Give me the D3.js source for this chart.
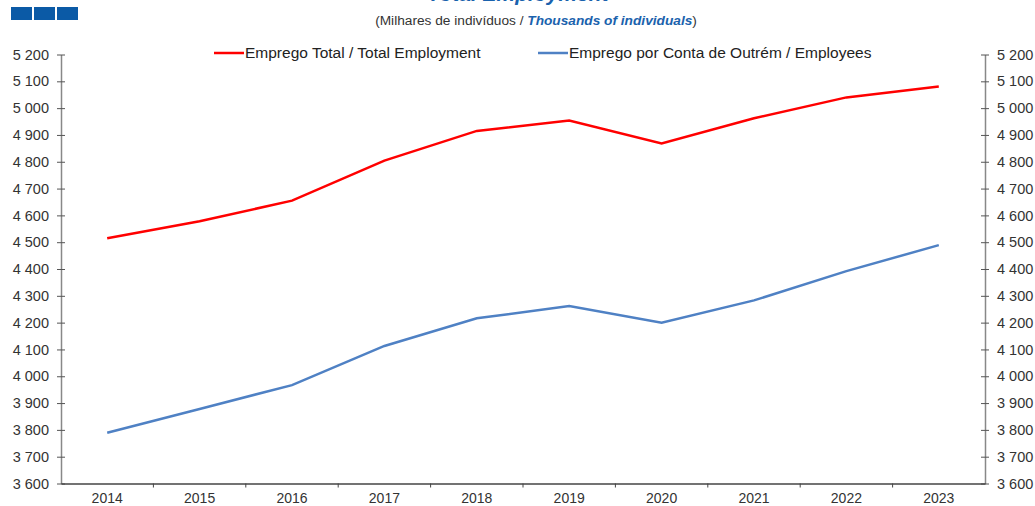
<!DOCTYPE html>
<html lang="en">
<head>
<meta charset="utf-8">
<title>Total Employment</title>
<script src="https://cdn.jsdelivr.net/npm/d3@7"></script>
<style>
  body { margin: 0; background: #fff; }
  svg text { font-family: "Liberation Sans", Arial, sans-serif; }
</style>
</head>
<body>
<script>
// anos / years
var years = ["2014", "2015", "2016", "2017", "2018", "2019", "2020", "2021", "2022", "2023"];
// Emprego Total / Total Employment (milhares)
var totalEmployment = [4515, 4578, 4655, 4804, 4915, 4954, 4868, 4962, 5040, 5081];
// Emprego por Conta de Outrém / Employees (milhares)
var employees = [3789, 3878, 3967, 4113, 4216, 4262, 4200, 4283, 4392, 4489];
var yTicks = d3.range(3600, 5201, 100);

var w = 1035, h = 506;
var margin = {left: 61, right: 50, top: 54.5, bottom: 22.5};

var svg = d3.select("body").append("svg")
  .attr("width", w)
  .attr("height", h);

var x = d3.scaleBand().domain(years).range([margin.left, w - margin.right]);
var y = d3.scaleLinear().domain([3600, 5200]).range([h - margin.bottom, margin.top]);

// cabeçalho
var boxes = [0, 1, 2];
svg.selectAll("rect.box").data(boxes).enter().append("rect")
  .attr("class", "box")
  .attr("x", function(d) { return 11 + d * 23; })
  .attr("y", 7)
  .attr("width", 21)
  .attr("height", 13)
  .attr("fill", "#0b5aa6");

// titulo (cortado no topo, como no original)
svg.append("text")
  .attr("x", 518).attr("y", 1)
  .attr("text-anchor", "middle")
  .attr("font-size", "21px")
  .attr("font-weight", "bold")
  .attr("font-style", "italic")
  .attr("fill", "#1a62ad")
  .text("Total Employment");

var sub = svg.append("text")
  .attr("x", 536).attr("y", 25)
  .attr("text-anchor", "middle")
  .attr("font-size", "13.7px")
  .attr("fill", "#333");
sub.append("tspan").text("(Milhares de indivíduos / ");
sub.append("tspan").attr("font-weight", "bold").attr("font-style", "italic")
  .attr("fill", "#1a62ad").text("Thousands of individuals");
sub.append("tspan").text(")");

// eixos
var fmt = function(d) { return d3.format(",")(d).replace(",", " "); };

var left = svg.append("g")
  .attr("transform", "translate(" + margin.left + ",0)")
  .call(d3.axisLeft(y).tickValues(yTicks).tickFormat(fmt).tickSizeInner(5).tickSizeOuter(0).tickPadding(7));
var right = svg.append("g")
  .attr("transform", "translate(" + (w - margin.right) + ",0)")
  .call(d3.axisRight(y).tickValues(yTicks).tickFormat(fmt).tickSizeInner(5).tickSizeOuter(0).tickPadding(7));

[left, right].forEach(function(g) {
  g.select(".domain").attr("stroke", "#888").attr("stroke-width", 1.5);
  g.selectAll(".tick line").attr("stroke", "#555").attr("x1", -4).attr("x2", 4);
  g.selectAll(".tick text").attr("font-size", "14.5px").attr("fill", "#333")
    .attr("font-family", "'Liberation Sans', Arial, sans-serif");
});

var bottom = svg.append("g")
  .attr("transform", "translate(0," + (h - margin.bottom) + ")")
  .call(d3.axisBottom(x).tickSize(0).tickPadding(10));
bottom.select(".domain").attr("stroke", "#444").attr("stroke-width", 1.5);
bottom.selectAll(".tick text").attr("font-size", "14px").attr("fill", "#333")
  .attr("font-family", "'Liberation Sans', Arial, sans-serif");
// marcas entre categorias
bottom.selectAll("line.sep").data(years.slice(1)).enter().append("line")
  .attr("class", "sep")
  .attr("x1", function(d) { return x(d); })
  .attr("x2", function(d) { return x(d); })
  .attr("y1", 0).attr("y2", 4)
  .attr("stroke", "#444");

// linhas
var line = d3.line()
  .x(function(d, i) { return x(years[i]) + x.bandwidth() / 2; })
  .y(function(d) { return y(d); });

svg.append("path").datum(employees)
  .attr("d", line).attr("fill", "none")
  .attr("stroke", "#4f81c4").attr("stroke-width", 2.5);
svg.append("path").datum(totalEmployment)
  .attr("d", line).attr("fill", "none")
  .attr("stroke", "#ff0000").attr("stroke-width", 2.5);

// legenda
var legend = [
  {name: "Emprego Total / Total Employment", color: "#ff0000", x: 214},
  {name: "Emprego por Conta de Outrém / Employees", color: "#4f81c4", x: 538}
];
var lg = svg.selectAll("g.leg").data(legend).enter().append("g").attr("class", "leg");
lg.append("line")
  .attr("x1", function(d) { return d.x; })
  .attr("x2", function(d) { return d.x + 30; })
  .attr("y1", 53).attr("y2", 53)
  .attr("stroke", function(d) { return d.color; })
  .attr("stroke-width", 2.5);
lg.append("text")
  .attr("x", function(d) { return d.x + 31; })
  .attr("y", 58)
  .attr("font-size", "15.5px")
  .attr("fill", "#222")
  .text(function(d) { return d.name; });
</script>
</body>
</html>
